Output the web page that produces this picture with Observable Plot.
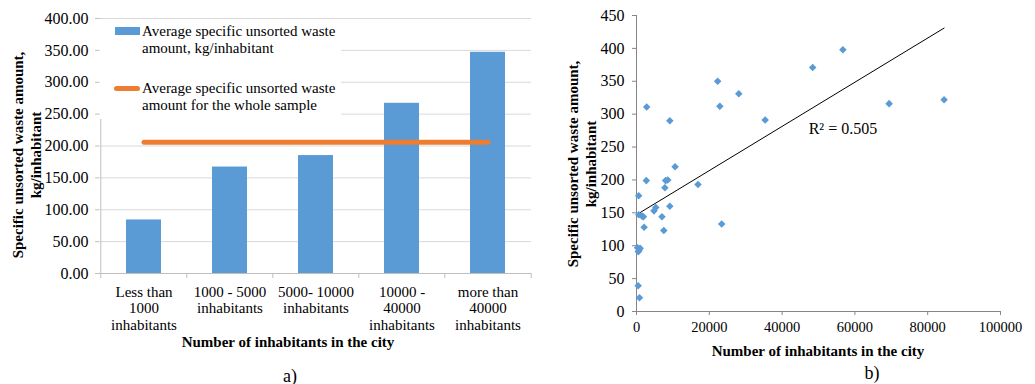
<!DOCTYPE html>
<html>
<head>
<meta charset="utf-8">
<script src="https://cdn.jsdelivr.net/npm/d3@7"></script>
<script src="https://cdn.jsdelivr.net/npm/@observablehq/plot@0.6"></script>
<style>
  html, body { margin: 0; padding: 0; background: #fff; }
  body { font-family: "Times New Roman", "Liberation Serif", Tinos, "DejaVu Serif", serif; color: #000; }
  #wrap { position: relative; width: 1035px; height: 384px; overflow: hidden; }
  #wrap svg { position: absolute; top: 0; }
  .t { position: absolute; white-space: nowrap; color: #000; }
  .b { font-weight: bold; font-size: 15px; }
  .rot { transform: translate(-50%, -50%) rotate(-90deg); text-align: center; line-height: 18px; }
  .ctr { transform: translate(-50%, -50%); text-align: center; }
  .leg { position: absolute; left: 100px; top: 19px; width: 241px; height: 100px; background: #fff; }
  .legtxt { position: absolute; left: 42px; font-size: 15px; line-height: 17px; white-space: nowrap; }
</style>
</head>
<body>
<div id="wrap"></div>
<script>
// ---------- Chart a) data ----------
const categories = [
  "Less than\n1000\ninhabitants",
  "1000 - 5000\ninhabitants",
  "5000- 10000\ninhabitants",
  "10000 -\n40000\ninhabitants",
  "more than\n40000\ninhabitants"
];
const categoryAvg = [84, 167, 185, 267, 347];
const sampleAvg = 206;
const yTicksA = [0, 50, 100, 150, 200, 250, 300, 350, 400];

// ---------- Chart b) data ----------
const popX = [
  2800, 9150, 22300, 22900, 28100, 35350, 48400, 56700, 69400, 84500,
  10600, 16900, 2700, 8000, 8600, 7800, 600, 640, 1500, 1900,
  2100, 4800, 5300, 7000, 7500, 9150, 23400, 300, 700, 1000,
  500, 460, 820
];
const wasteY = [
  311, 290, 350, 312, 331, 291, 371, 398, 316, 322,
  220, 193, 199, 199, 200, 188, 176, 147, 145, 144,
  128, 153, 158, 144, 123, 160, 133, 97, 93, 96,
  91, 39, 21
];
const yTicksB = [0, 50, 100, 150, 200, 250, 300, 350, 400, 450];
const xTicksB = [0, 20000, 40000, 60000, 80000, 100000];
const r2Label = [{x: 47300, y: 278, t: "R² = 0.505"}];

const bars = categories.map((c, i) => ({cat: c, v: categoryAvg[i]}));
const avgLine = categories.map(c => ({cat: c, v: sampleAvg}));
const points = popX.map((x, i) => ({x, y: wasteY[i]}));

const font = "'Times New Roman', 'Liberation Serif', Tinos, 'DejaVu Serif', serif";
const blue = "#5b9bd5", orange = "#ed7d31";

const widthA = 540, mlA = 99, mrA = 9;
const stepA = (widthA - mlA - mrA) / categories.length;

const plotA = Plot.plot({
  width: widthA, height: 384,
  marginLeft: mlA, marginRight: mrA, marginTop: 18, marginBottom: 111,
  style: {fontFamily: font, fontSize: "15px", color: "#000", background: "transparent", overflow: "visible"},
  x: {domain: categories, paddingInner: 0.595, paddingOuter: 0.2975, label: null},
  y: {domain: [0, 400], label: null},
  marks: [
    Plot.gridY(yTicksA.slice(1), {stroke: "#d9d9d9", strokeOpacity: 1}),
    Plot.barY(bars, {x: "cat", y: "v", fill: blue}),
    Plot.ruleY([0], {stroke: "#bfbfbf"}),
    Plot.ruleX([categories[0]], {dx: -stepA / 2, stroke: "#bfbfbf"}),
    Plot.ruleX(categories, {x: d => d, y1: 0, y2: 0, insetBottom: -5, dx: -stepA / 2, stroke: "#bfbfbf"}),
    Plot.ruleX([categories[categories.length - 1]], {y1: 0, y2: 0, insetBottom: -5, dx: stepA / 2, stroke: "#bfbfbf"}),
    Plot.lineY(avgLine, {x: "cat", y: "v", stroke: orange, strokeWidth: 5, strokeLinecap: "round"}),
    Plot.axisY(yTicksA, {tickFormat: d => d.toFixed(2), tickSize: 4, tickPadding: 7, stroke: "#bfbfbf", fill: "#000", fontSize: 16, label: null}),
    Plot.axisX({tickSize: 0, tickPadding: 11, fontSize: 15, lineHeight: 1.13, fill: "#000", label: null})
  ]
});

const plotB = Plot.plot({
  width: 495, height: 384,
  marginLeft: 96, marginRight: 35, marginTop: 15, marginBottom: 73,
  style: {fontFamily: font, fontSize: "15px", color: "#000", background: "transparent", overflow: "visible"},
  x: {domain: [0, 100000], label: null},
  y: {domain: [0, 450], label: null},
  marks: [
    Plot.axisY(yTicksB, {tickSize: 4, tickPadding: 8, stroke: "#868686", fill: "#000", fontSize: 16, label: null}),
    Plot.axisX(xTicksB, {tickSize: 4, tickPadding: 6, stroke: "#868686", fill: "#000", fontSize: 14.5, tickFormat: d => String(d), label: null}),
    Plot.ruleX([0], {stroke: "#868686"}),
    Plot.ruleY([0], {stroke: "#868686"}),
    Plot.linearRegressionY(points, {x: "x", y: "y", stroke: "#000", strokeWidth: 1, ci: 0}),
    Plot.dot(points, {x: "x", y: "y", symbol: "diamond2", r: 3.4, fill: blue, stroke: null}),
    Plot.text(r2Label, {x: "x", y: "y", text: "t", textAnchor: "start", fontSize: 16, fill: "#000"})
  ]
});

const wrap = document.getElementById("wrap");
plotA.style.left = "0px";
plotB.style.left = "540px";
wrap.appendChild(plotA);
wrap.appendChild(plotB);

function addDiv(cls, html, css) {
  const d = document.createElement("div");
  d.className = cls;
  d.innerHTML = html;
  Object.assign(d.style, css);
  wrap.appendChild(d);
  return d;
}

// Legend for chart a)
const leg = addDiv("leg", "", {});
const sw = document.createElement("div");
Object.assign(sw.style, {position: "absolute", left: "15px", top: "8px", width: "25px", height: "8px", background: blue});
leg.appendChild(sw);
const t1 = document.createElement("div");
t1.className = "legtxt"; t1.style.top = "4px";
t1.innerHTML = "Average specific unsorted waste<br>amount, kg/inhabitant";
leg.appendChild(t1);
const ln = document.createElement("div");
Object.assign(ln.style, {position: "absolute", left: "14px", top: "67px", width: "26px", height: "5px", background: orange, borderRadius: "3px"});
leg.appendChild(ln);
const t2 = document.createElement("div");
t2.className = "legtxt"; t2.style.top = "61px";
t2.innerHTML = "Average specific unsorted waste<br>amount for the whole sample";
leg.appendChild(t2);

// Axis titles and panel labels
addDiv("t b rot", "Specific unsorted waste amount,<br>kg/inhabitant", {left: "27px", top: "155px"});
addDiv("t b ctr", "Number of inhabitants in the city", {left: "288px", top: "342px"});
addDiv("t ctr", "a)", {left: "290px", top: "376px", fontSize: "18px"});

addDiv("t b rot", "Specific unsorted waste amount,<br>kg/inhabitant", {left: "582px", top: "164px"});
addDiv("t b ctr", "Number of inhabitants in the city", {left: "818px", top: "351px"});
addDiv("t ctr", "b)", {left: "872px", top: "373px", fontSize: "18px"});
</script>
</body>
</html>
